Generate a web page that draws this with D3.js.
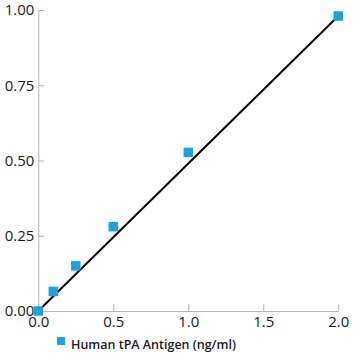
<!DOCTYPE html>
<html>
<head>
<meta charset="utf-8">
<script src="https://cdn.jsdelivr.net/npm/d3@7"></script>
<style>
  html, body { margin: 0; padding: 0; background: #fff; }
  svg { display: block; }
</style>
</head>
<body>
<div id="chart"></div>
<script>
// Data
const concentrations = [0, 0.1, 0.25, 0.5, 1.0, 2.0];
const absorbance = [0.0, 0.065, 0.15, 0.28, 0.527, 0.98];
const fitX = [0, 2.0];
const fitY = [0, 0.98];
const xTicks = [0, 0.5, 1.0, 1.5, 2.0];
const yTicks = [0, 0.25, 0.5, 0.75, 1.0];
const seriesName = "Human tPA Antigen (ng/ml)";

const W = 360, H = 360;
const svg = d3.select("#chart").append("svg").attr("width", W).attr("height", H);

const x = d3.scaleLinear().domain([0, 2]).range([38.3, 338.3]);
const y = d3.scaleLinear().domain([0, 1]).range([311, 10]);

const axisColor = "#b4b4b4";
const labelFont = "'Open Sans', sans-serif";

// Y axis
const yAxis = svg.append("g").attr("transform", `translate(${x(0)},0)`)
  .call(d3.axisLeft(y).tickValues(yTicks).tickFormat(d3.format(".2f")).tickSizeInner(-6).tickSizeOuter(0).tickPadding(4));
yAxis.select(".domain").attr("stroke", axisColor);
yAxis.selectAll(".tick line").attr("stroke", axisColor);
yAxis.selectAll(".tick text").attr("fill", "#1a1a1a").style("font-family", labelFont).style("font-size", "15px").attr("x", -4);

// X axis
const xAxis = svg.append("g").attr("transform", `translate(0,${y(0)})`)
  .call(d3.axisBottom(x).tickValues(xTicks).tickFormat(d3.format(".1f")).tickSizeInner(-7).tickSizeOuter(0).tickPadding(4));
xAxis.select(".domain").attr("stroke", axisColor);
xAxis.selectAll(".tick line").attr("stroke", axisColor);
xAxis.selectAll(".tick text").attr("fill", "#1a1a1a").style("font-family", labelFont).style("font-size", "15px").attr("y", 5);

// Fit line
const fitData = fitX.map((d, i) => [d, fitY[i]]);
svg.append("path")
  .datum(fitData)
  .attr("fill", "none")
  .attr("stroke", "#000")
  .attr("stroke-width", 2)
  .attr("d", d3.line().x(d => x(d[0])).y(d => y(d[1])));

// Markers
const ms = 9.5;
const markerColor = "#1ba3e1";
svg.append("g").selectAll("rect")
  .data(concentrations.map((c, i) => [c, absorbance[i]]))
  .join("rect")
  .attr("x", d => x(d[0]) - ms / 2)
  .attr("y", d => y(d[1]) - ms / 2)
  .attr("width", ms)
  .attr("height", ms)
  .attr("fill", markerColor);

// Legend
const lg = svg.append("g");
lg.append("rect").attr("x", 57).attr("y", 337).attr("width", 8).attr("height", 8).attr("fill", markerColor);
lg.append("text").attr("x", 71).attr("y", 349)
  .style("font-family", labelFont).style("font-size", "12.5px").style("font-weight", 600)
  .attr("fill", "#1a1a1a")
  .text(seriesName);
</script>
</body>
</html>
